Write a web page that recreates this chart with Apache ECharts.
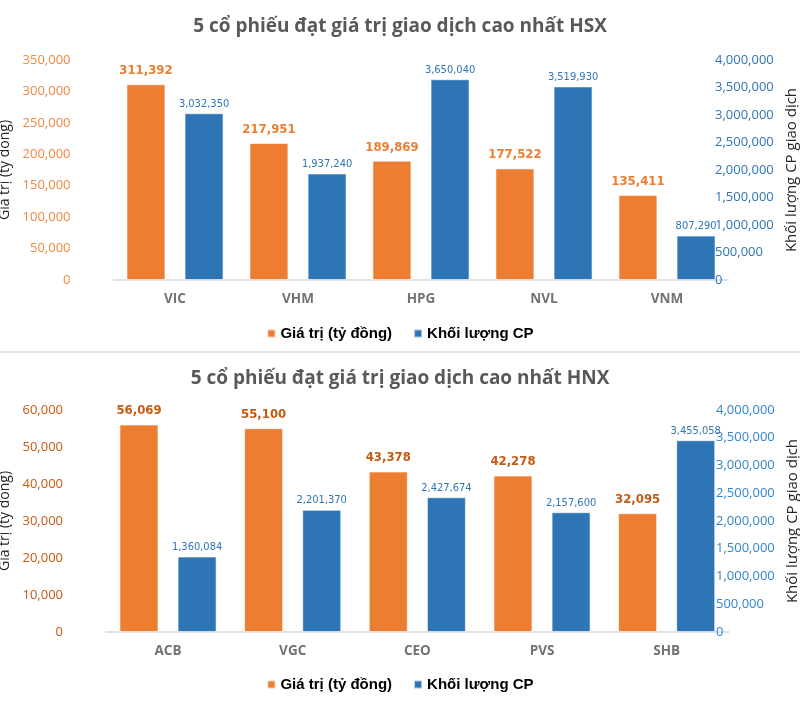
<!DOCTYPE html>
<html><head><meta charset="utf-8">
<script src="https://cdn.jsdelivr.net/npm/echarts@6/dist/echarts.min.js"></script>
<style>html,body{margin:0;padding:0;background:#fff}#c{width:800px;height:727px}</style>
</head><body><div id="c"></div>
<script>
const catsHSX = ['VIC','VHM','HPG','NVL','VNM'];
const valHSX = [311392,217951,189869,177522,135411];
const volHSX = [3032350,1937240,3650040,3519930,807290];
const catsHNX = ['ACB','VGC','CEO','PVS','SHB'];
const valHNX = [56069,55100,43378,42278,32095];
const volHNX = [1360084,2201370,2427674,2157600,3455058];
const titleHSX = '5 cổ phiếu đạt giá trị giao dịch cao nhất HSX';
const titleHNX = '5 cổ phiếu đạt giá trị giao dịch cao nhất HNX';
const nameVal = 'Giá trị (tỷ đồng)';
const nameVol = 'Khối lượng CP';
const axisLeftName = 'Giá trị (tỷ đồng)';
const axisRightName = 'Khối lượng CP giao dịch';

const ORANGE = '#ED7D31', BLUE = '#2E75B6';
const NARROW = '"DejaVu Sans Condensed", "Liberation Sans Narrow", Roboto, sans-serif';
const fmt = v => Number(v).toLocaleString('en-US');
const chart = echarts.init(document.getElementById('c'));

function yAxes(gi, max, interval, rmax, rint, lcol, rcol, lmargin, lgap, roff, rgap) {
  return [
    {type:'value', gridIndex:gi, min:0, max:max, interval:interval, position:'left',
     splitLine:{show:false}, axisLine:{show:false}, axisTick:{show:false},
     axisLabel:{color:lcol, fontFamily:'Open Sans', fontSize:13, margin:lmargin, formatter:fmt},
     name:axisLeftName, nameLocation:'middle', nameGap:lgap,
     nameTextStyle:{color:'#262626', fontFamily:'Open Sans', fontSize:14}},
    {type:'value', gridIndex:gi, min:0, max:rmax, interval:rint, position:'right', offset:roff,
     splitLine:{show:false}, axisLine:{show:false}, axisTick:{show:false},
     axisLabel:{color:rcol, fontFamily:'Open Sans', fontSize:13, margin:0, formatter:fmt},
     name:axisRightName, nameLocation:'middle', nameGap:rgap,
     nameTextStyle:{color:'#262626', fontFamily:'Open Sans', fontSize:15}}
  ];
}
function xAxis(gi, cats) {
  return {type:'category', gridIndex:gi, data:cats,
    axisLine:{lineStyle:{color:'#D9D9D9', width:1.5}}, axisTick:{show:false},
    axisLabel:{color:'#767171', fontFamily:'Open Sans', fontWeight:'bold', fontSize:13.5, margin:12}};
}
function series(gi, vals, vols, olcol) {
  return [
    {name:nameVal, type:'bar', xAxisIndex:gi, yAxisIndex:gi*2, data:vals, barWidth:39, barGap:'49%',
     itemStyle:{color:ORANGE, borderColor:'rgba(255,255,255,0.6)', borderWidth:1},
     label:{show:true, position:'top', distance:7, color:olcol, fontFamily:NARROW,
       fontWeight:'bold', fontSize:13, formatter:p=>fmt(p.value)}},
    {name:nameVol, type:'bar', xAxisIndex:gi, yAxisIndex:gi*2+1, data:vols, barWidth:39,
     itemStyle:{color:BLUE, borderColor:'rgba(255,255,255,0.6)', borderWidth:1},
     label:{show:true, position:'top', distance:4, color:BLUE, fontFamily:NARROW,
       fontSize:11, formatter:p=>fmt(p.value)}}
  ];
}
const legendCommon = {itemWidth:8, itemHeight:8, itemGap:21, icon:'rect',
  textStyle:{color:'#000', fontFamily:'Liberation Sans', fontWeight:'bold', fontSize:15}, data:[nameVal, nameVol]};

chart.setOption({
  animation:false,
  title:[
    {text:titleHSX, left:'center', top:12, textStyle:{color:'#595959', fontFamily:'Open Sans', fontWeight:'bold', fontSize:19}},
    {text:titleHNX, left:'center', top:364, textStyle:{color:'#595959', fontFamily:'Open Sans', fontWeight:'bold', fontSize:19}}
  ],
  legend:[
    Object.assign({top:321, left:'center'}, legendCommon),
    Object.assign({top:672, left:'center'}, legendCommon)
  ],
  grid:[
    {left:113.5, right:71.5, top:60, height:220, outerBoundsMode:'none', containLabel:false},
    {left:105.7, right:71, top:410, height:222, outerBoundsMode:'none', containLabel:false}
  ],
  xAxis:[xAxis(0, catsHSX), xAxis(1, catsHNX)],
  yAxis:[].concat(
    yAxes(0, 350000, 50000, 4000000, 500000, '#F0883E', '#2E75B6', 43, 88, -13.5, 67),
    yAxes(1, 60000, 10000, 4000000, 500000, '#C55A11', '#2F86D0', 42.7, 80, -13, 66)
  ),
  series:[].concat(series(0, valHSX, volHSX, ORANGE), series(1, valHNX, volHNX, '#C55A11')),
  graphic:[{type:'line', shape:{x1:0, y1:352, x2:800, y2:352}, style:{stroke:'#E3E3E3', lineWidth:2}}]
});
</script></body></html>
